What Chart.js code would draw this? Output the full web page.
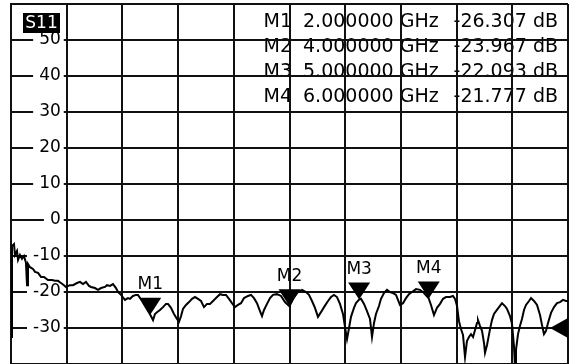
<!DOCTYPE html>
<html>
<head>
<meta charset="utf-8">
<title>S11</title>
<script src="https://cdn.jsdelivr.net/npm/chart.js@4.4.0/dist/chart.umd.min.js"></script>
<style>
  html, body { margin: 0; padding: 0; background: #fff; }
  #wrap { width: 577px; height: 364px; position: relative; }
</style>
</head>
<body>
<div id="wrap"><canvas id="s11Chart"></canvas></div>
<script>
  // trace (GHz / dB)
  const freqGHz = [
    0.005, 0.014, 0.043, 0.057, 0.086, 0.101, 0.129, 0.158, 0.187, 0.215, 0.230, 0.244, 0.273, 0.316, 0.345,
    0.388, 0.431, 0.474, 0.531, 0.589, 0.632, 0.675, 0.718, 0.761, 0.790, 0.847, 0.890, 0.948, 0.991, 1.034,
    1.077, 1.120, 1.149, 1.206, 1.250, 1.293, 1.350, 1.379, 1.422, 1.465, 1.508, 1.537, 1.580, 1.637, 1.680,
    1.709, 1.752, 1.795, 1.824, 1.882, 1.939, 2.000, 2.040, 2.068, 2.097, 2.140, 2.183, 2.226, 2.255, 2.298,
    2.341, 2.384, 2.413, 2.442, 2.470, 2.513, 2.557, 2.600, 2.643, 2.686, 2.729, 2.772, 2.815, 2.858, 2.916,
    2.959, 3.002, 3.045, 3.088, 3.131, 3.174, 3.217, 3.260, 3.303, 3.346, 3.404, 3.447, 3.490, 3.533, 3.576,
    3.605, 3.634, 3.677, 3.720, 3.763, 3.820, 3.878, 3.935, 4.000, 4.022, 4.065, 4.122, 4.180, 4.237, 4.280,
    4.323, 4.366, 4.409, 4.452, 4.496, 4.553, 4.596, 4.639, 4.682, 4.725, 4.768, 4.797, 4.826, 4.855, 4.883,
    4.926, 4.955, 5.000, 5.027, 5.070, 5.113, 5.156, 5.185, 5.214, 5.242, 5.285, 5.314, 5.357, 5.400, 5.443,
    5.487, 5.530, 5.558, 5.587, 5.630, 5.673, 5.716, 5.759, 5.817, 5.874, 5.932, 6.000, 6.032, 6.075, 6.118,
    6.162, 6.205, 6.248, 6.305, 6.348, 6.377, 6.406, 6.434, 6.463, 6.492, 6.521, 6.549, 6.578, 6.607, 6.636,
    6.664, 6.693, 6.707, 6.736, 6.765, 6.794, 6.808, 6.837, 6.851, 6.880, 6.908, 6.937, 6.966, 7.009, 7.052,
    7.095, 7.124, 7.167, 7.196, 7.224, 7.239, 7.253, 7.282, 7.311, 7.339, 7.368, 7.397, 7.440, 7.469, 7.512,
    7.555, 7.598, 7.627, 7.655, 7.684, 7.713, 7.756, 7.799, 7.842, 7.885, 7.928, 7.971, 8.000
  ];
  const s11dB = [
    -32.5, -7.2, -6.7, -9.7, -8.6, -11.1, -9.7, -10.8, -10.0, -11.9, -18.1, -12.2, -13.1, -13.6, -14.4,
    -14.7, -15.8, -15.8, -16.7, -16.7, -16.9, -16.9, -17.5, -18.1, -18.6, -18.1, -18.1, -17.5, -17.2, -17.8,
    -17.2, -18.3, -18.6, -18.9, -19.4, -18.9, -18.6, -18.1, -18.3, -17.8, -18.9, -20.0, -20.8, -22.2, -21.7,
    -21.9, -21.1, -20.8, -20.8, -22.5, -24.4, -26.3, -27.8, -26.1, -25.6, -25.0, -24.2, -23.3, -23.3, -24.4,
    -26.1, -27.5, -28.3, -26.7, -24.7, -23.6, -22.8, -21.9, -21.4, -21.9, -22.5, -24.2, -23.3, -23.3, -22.2,
    -21.4, -20.6, -20.8, -20.8, -21.9, -23.1, -24.2, -23.6, -23.1, -21.7, -21.1, -20.8, -21.7, -23.1, -25.3,
    -26.7, -25.0, -23.3, -21.7, -20.8, -20.6, -21.1, -22.8, -23.97, -23.1, -21.4, -20.0, -19.4, -20.0, -20.8,
    -22.5, -24.4, -26.9, -25.6, -24.2, -22.5, -21.4, -20.8, -21.4, -23.3, -26.1, -29.7, -33.1, -30.0, -26.9,
    -24.4, -23.1, -22.09, -21.9, -23.3, -25.3, -27.5, -32.5, -28.6, -26.1, -23.9, -21.9, -20.3, -19.4, -20.0,
    -20.3, -20.8, -22.2, -23.6, -23.1, -21.7, -20.6, -20.0, -19.2, -19.4, -20.3, -21.78, -23.6, -26.4, -24.4,
    -23.3, -21.9, -21.4, -21.4, -21.1, -21.9, -23.9, -28.1, -30.3, -31.9, -38.1, -33.6, -32.5, -31.7, -32.5,
    -30.6, -28.6, -27.8, -29.4, -30.8, -34.2, -36.9, -34.7, -33.3, -30.3, -27.8, -26.1, -25.3, -24.2, -23.1,
    -23.9, -24.7, -26.7, -28.9, -35.0, -41.0, -36.1, -31.7, -29.4, -27.5, -25.0, -23.6, -22.5, -21.7, -22.5,
    -23.6, -26.4, -29.2, -31.7, -30.8, -28.6, -25.8, -24.2, -23.1, -22.8, -22.2, -22.5, -22.5
  ];

  const xGridGHz = [0, 0.8, 1.6, 2.4, 3.2, 4, 4.8, 5.6, 6.4, 7.2, 8];
  const yGridDb = [60, 50, 40, 30, 20, 10, 0, -10, -20, -30, -40];
  const yTickLabels = [50, 40, 30, 20, 10, 0, -10, -20, -30];

  const markerNames = ['M1', 'M2', 'M3', 'M4'];
  const markerFreqs = [2, 4, 5, 6];
  const markerDb = [-26.307, -23.967, -22.093, -21.777];
  const refLevelDb = -30;
  const traceName = 'S11';

  const FAMILY = '"DejaVu Sans", sans-serif';

  const vnaOverlay = {
    id: 'vnaOverlay',
    beforeDraw(chart) {
      const ctx = chart.ctx;
      ctx.save();
      ctx.fillStyle = '#fff';
      ctx.fillRect(0, 0, chart.width, chart.height);

      // marker readout, grid gets drawn over it like on the instrument
      ctx.font = '19px ' + FAMILY;
      ctx.fillStyle = '#000';
      ctx.textBaseline = 'middle';
      markerNames.forEach(function (name, i) {
        const ty = 22 + i * 25;
        ctx.textAlign = 'right';
        ctx.fillText(name, 292, ty);
        ctx.textAlign = 'left';
        ctx.fillText(markerFreqs[i].toFixed(6) + ' GHz', 303, ty);
        ctx.textAlign = 'right';
        ctx.fillText(markerDb[i].toFixed(3) + ' dB', 558, ty);
      });
      ctx.restore();
    },
    afterDatasetsDraw(chart) {
      const ctx = chart.ctx;
      const xs = chart.scales.x;
      const ys = chart.scales.y;
      const area = chart.chartArea;
      ctx.save();
      ctx.fillStyle = '#000';
      ctx.font = '17px ' + FAMILY;
      ctx.textAlign = 'center';
      ctx.textBaseline = 'middle';

      markerNames.forEach(function (name, i) {
        const px = xs.getPixelForValue(markerFreqs[i]);
        const py = ys.getPixelForValue(markerDb[i]);
        ctx.beginPath();
        ctx.moveTo(px - 11, py - 17);
        ctx.lineTo(px + 11, py - 17);
        ctx.lineTo(px, py);
        ctx.closePath();
        ctx.fill();
        ctx.fillText(name, px, py - 30);
      });

      // reference level arrow on the right edge
      const ry = ys.getPixelForValue(refLevelDb);
      ctx.beginPath();
      ctx.moveTo(area.right, ry - 10);
      ctx.lineTo(area.right - 18, ry);
      ctx.lineTo(area.right, ry + 10);
      ctx.closePath();
      ctx.fill();

      // trace name box
      ctx.fillRect(area.left + 12, area.top + 9, 37, 20);
      ctx.fillStyle = '#fff';
      ctx.fillText(traceName, area.left + 30.5, area.top + 19.5);
      ctx.restore();
    }
  };

  document.addEventListener('DOMContentLoaded', function () {
    const el = document.getElementById('s11Chart');

    new Chart(el, {
      type: 'line',
      data: {
        datasets: [{
          label: traceName,
          data: freqGHz.map(function (f, i) { return { x: f, y: s11dB[i] }; }),
          borderColor: '#000',
          borderWidth: 2,
          pointRadius: 0,
          tension: 0,
          fill: false
        }]
      },
      options: {
        responsive: true,
        maintainAspectRatio: false,
        animation: false,
        layout: { padding: { left: 11, right: 9, top: 4, bottom: 0 } },
        plugins: { legend: { display: false }, tooltip: { enabled: false } },
        scales: {
          x: {
            type: 'linear',
            min: 0,
            max: 8,
            afterBuildTicks: function (s) { s.ticks = xGridGHz.map(function (v) { return { value: v }; }); },
            ticks: { display: false },
            grid: { color: '#111', lineWidth: 2, drawTicks: false },
            border: { color: '#111', width: 2 }
          },
          y: {
            type: 'linear',
            min: -40,
            max: 60,
            afterBuildTicks: function (s) { s.ticks = yGridDb.map(function (v) { return { value: v }; }); },
            afterFit: function (s) { s.width = 0; s.paddingTop = 0; s.paddingBottom = 0; },
            ticks: {
              mirror: true,
              crossAlign: 'far',
              padding: 22,
              color: '#000',
              font: { family: 'DejaVu Sans', size: 17 },
              callback: function (v) { return yTickLabels.indexOf(v) >= 0 ? String(v) : ''; },
              showLabelBackdrop: function (c) { return yTickLabels.indexOf(c.tick.value) >= 0; },
              backdropColor: '#fff',
              backdropPadding: { left: 6, right: 3, top: 0, bottom: 0 }
            },
            grid: { color: '#111', lineWidth: 2, drawTicks: false },
            border: { color: '#111', width: 2 }
          }
        }
      },
      plugins: [vnaOverlay]
    });
  });
</script>
</body>
</html>
